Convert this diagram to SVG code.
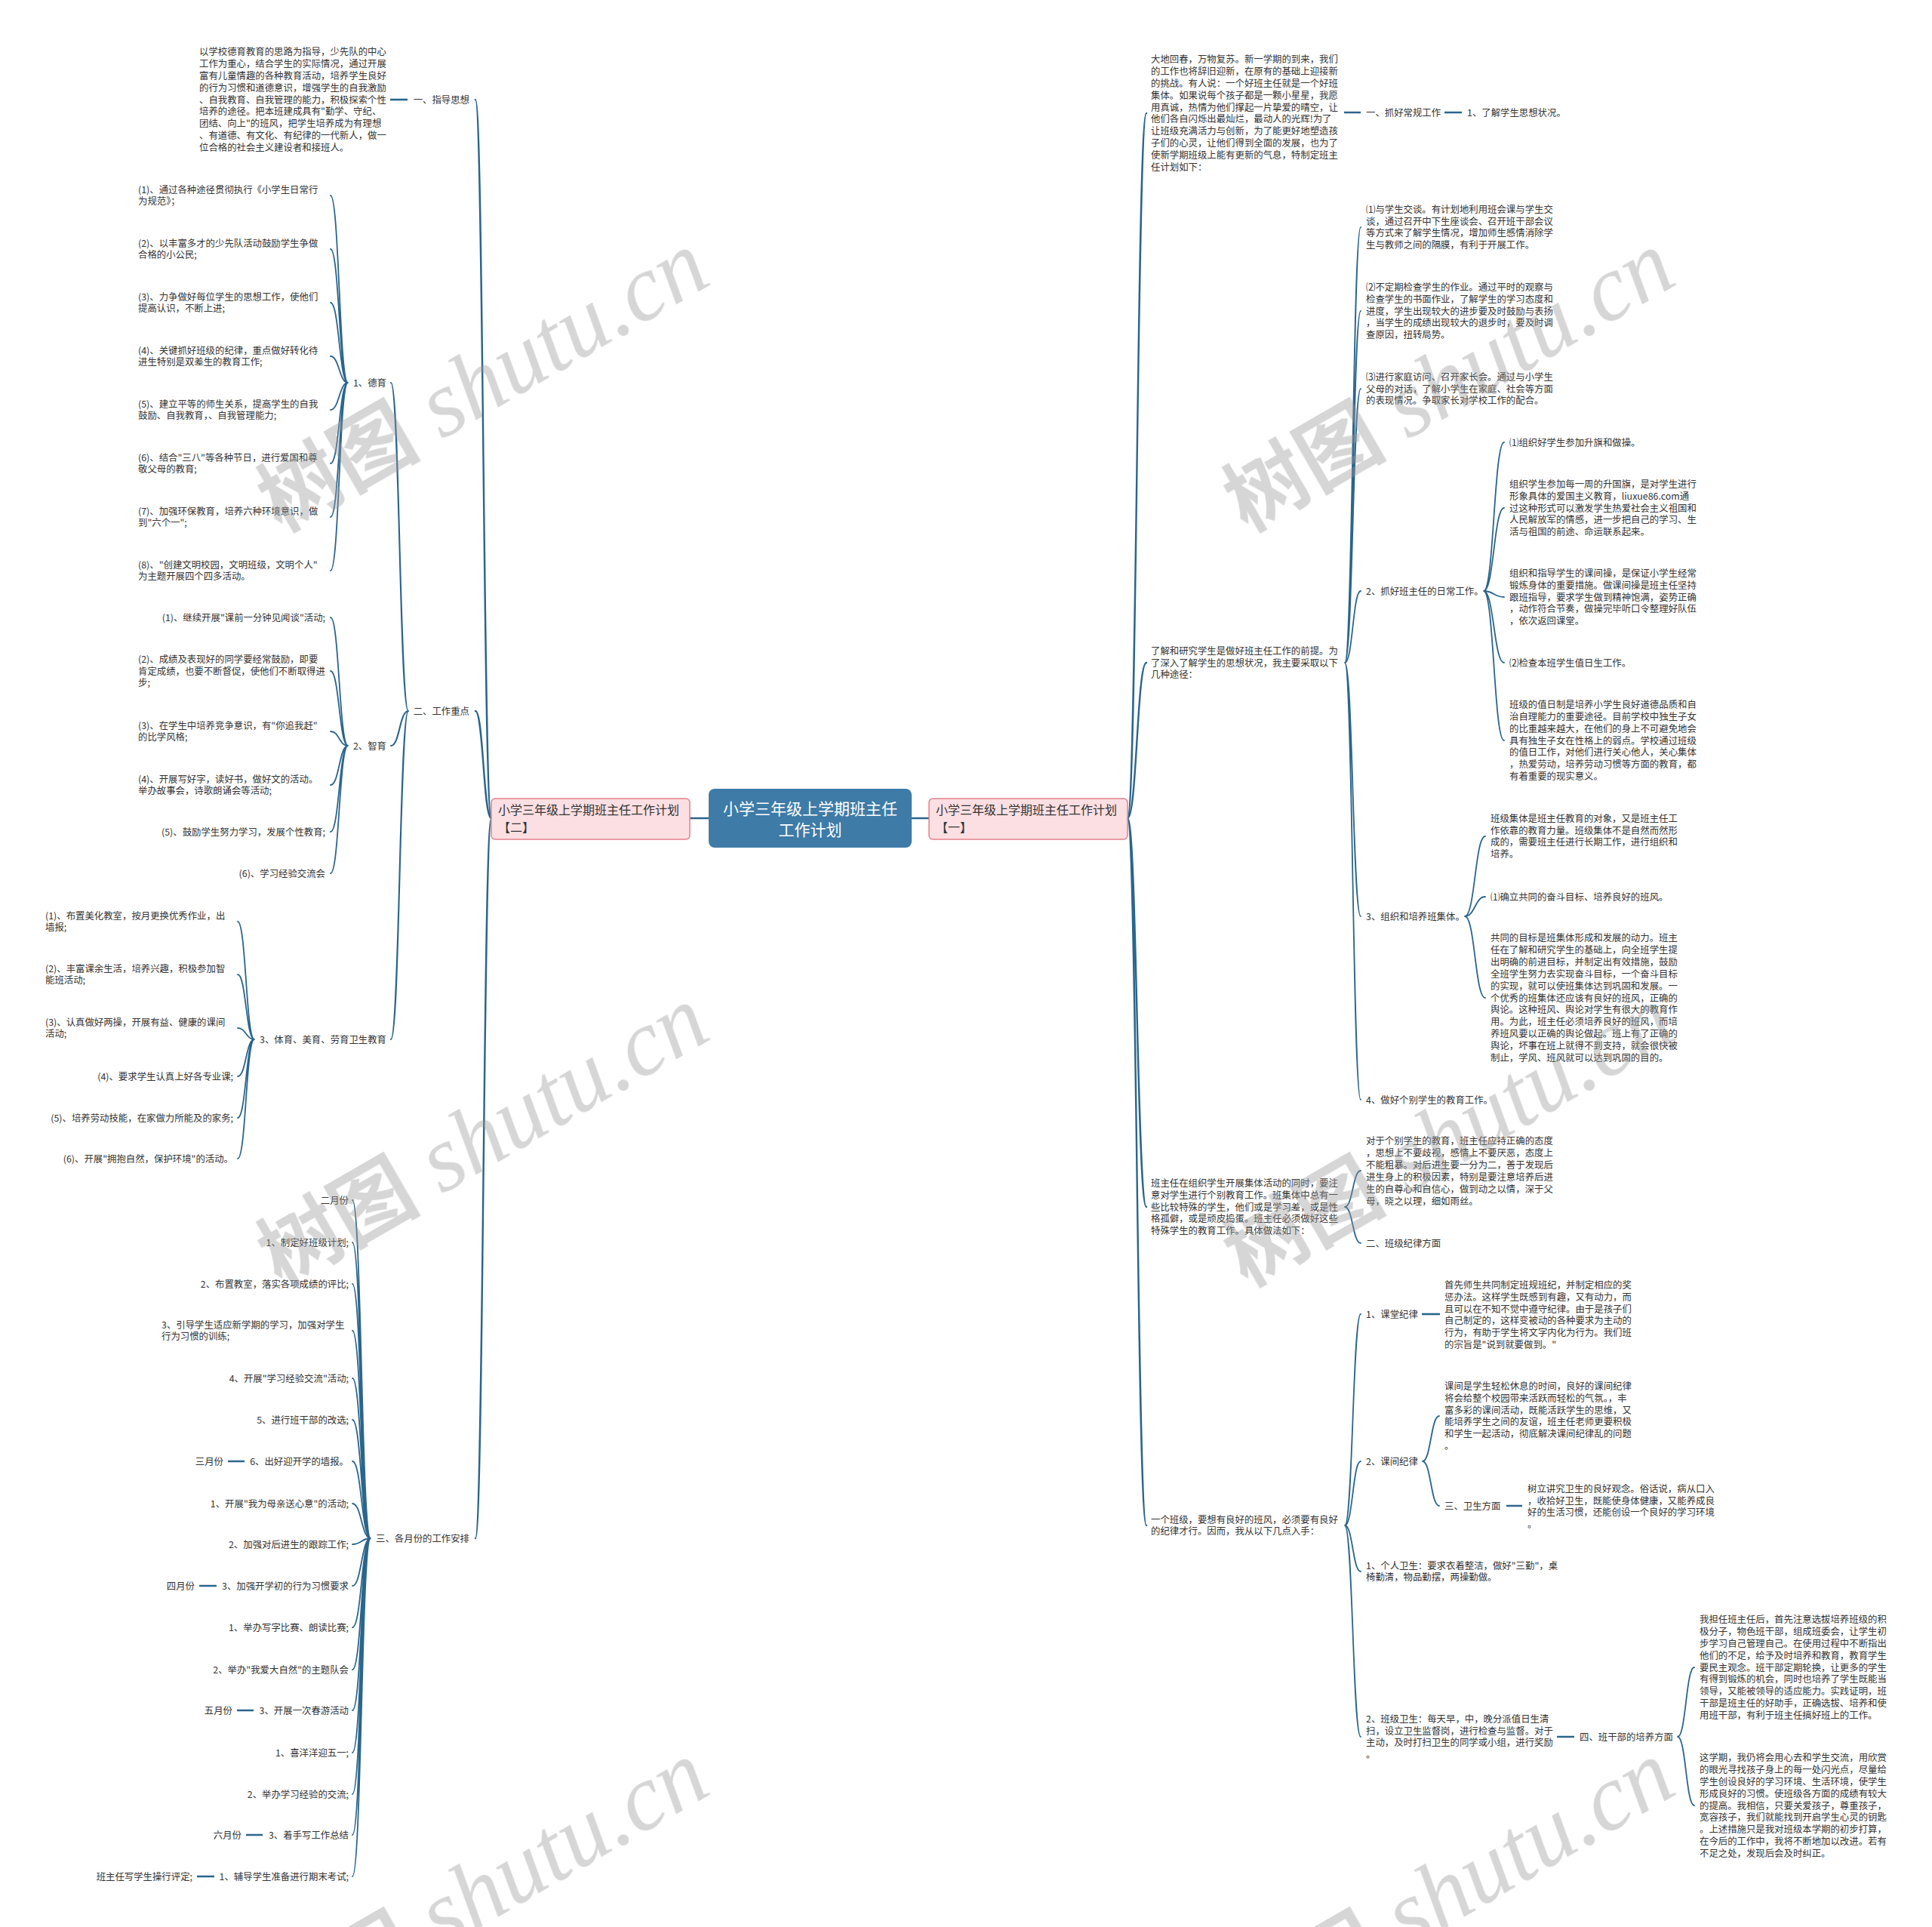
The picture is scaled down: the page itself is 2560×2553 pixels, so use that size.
<svg xmlns="http://www.w3.org/2000/svg" width="2560" height="2553" viewBox="0 0 2560 2553">
<style>
.t{font-family:"Noto Sans CJK SC","Noto Sans",sans-serif;font-size:12.4px;fill:#333}
.e{text-anchor:end}
.c{fill:none;stroke:#2a658c;stroke-width:1.8;stroke-linecap:round}
.h{fill:none;stroke:#2a658c;stroke-width:2.6}
.pink{fill:#fcdfe2;stroke:#e2808c;stroke-width:1.5}
.nt{font-family:"Noto Sans CJK SC","Noto Sans",sans-serif;font-size:16px;fill:#333}
.wm{fill:#9a9a9a;opacity:0.4}
.wc{font-family:"Noto Sans CJK SC",sans-serif;font-weight:bold;font-size:108px}
.we{font-family:"Liberation Serif",serif;font-style:italic;font-size:124px}
</style>
<rect width="2560" height="2553" fill="#fff"/>

<g id="connectors">
<path class="h" d="M914 1084H939M1208 1084H1231"/>
<path class="c" style="stroke-width:2.4" d="M651 1084C640.5 1084 640.5 132 630 132M651 1084C640.5 1084 640.5 942 630 942M651 1084C640.5 1084 640.5 2038 630 2038"/>
<path class="h" d="M517 132H540"/>
<path class="c" style="stroke-width:2.1" d="M541 942C529.5 942 529.5 507 518 507M541 942C529.5 942 529.5 988 518 988M541 942C529.5 942 529.5 1377 518 1377"/>
<path class="c" d="M461 507C449.5 507 449.5 259 438 259M461 507C449.5 507 449.5 330 438 330M461 507C449.5 507 449.5 401 438 401M461 507C449.5 507 449.5 472 438 472M461 507C449.5 507 449.5 543 438 543M461 507C449.5 507 449.5 614 438 614M461 507C449.5 507 449.5 685 438 685M461 507C449.5 507 449.5 756 438 756"/>
<path class="c" d="M461 988C449.5 988 449.5 818 438 818M461 988C449.5 988 449.5 889 438 889M461 988C449.5 988 449.5 969 438 969M461 988C449.5 988 449.5 1040 438 1040M461 988C449.5 988 449.5 1102 438 1102M461 988C449.5 988 449.5 1157 438 1157"/>
<path class="c" d="M337 1377C326 1377 326 1221 315 1221M337 1377C326 1377 326 1291 315 1291M337 1377C326 1377 326 1362 315 1362M337 1377C326 1377 326 1426 315 1426M337 1377C326 1377 326 1481 315 1481M337 1377C326 1377 326 1535 315 1535"/>
<path class="c" d="M491 2038C479 2038 479 1590 467 1590M491 2038C479 2038 479 1646 467 1646M491 2038C479 2038 479 1701 467 1701M491 2038C479 2038 479 1763 467 1763M491 2038C479 2038 479 1826 467 1826M491 2038C479 2038 479 1881 467 1881M491 2038C479 2038 479 1936 467 1936M491 2038C479 2038 479 1992 467 1992M491 2038C479 2038 479 2046 467 2046M491 2038C479 2038 479 2101 467 2101M491 2038C479 2038 479 2156 467 2156M491 2038C479 2038 479 2212 467 2212M491 2038C479 2038 479 2266 467 2266M491 2038C479 2038 479 2322 467 2322M491 2038C479 2038 479 2377 467 2377M491 2038C479 2038 479 2431 467 2431M491 2038C479 2038 479 2486 467 2486"/>
<path class="h" d="M302 1936H324M264 2101H287M314 2266H336M326 2431H348M261 2486H284"/>
<path class="c" style="stroke-width:2.4" d="M1494 1084C1506.5 1084 1506.5 150 1519 150M1494 1084C1506.5 1084 1506.5 878 1519 878M1494 1084C1506.5 1084 1506.5 1599 1519 1599M1494 1084C1506.5 1084 1506.5 2021 1519 2021"/>
<path class="h" d="M1781 149H1803M1914 149H1937"/>
<path class="c" d="M1782 878C1792.5 878 1792.5 301 1803 301M1782 878C1792.5 878 1792.5 412 1803 412M1782 878C1792.5 878 1792.5 515 1803 515M1782 878C1792.5 878 1792.5 783 1803 783M1782 878C1792.5 878 1792.5 1214 1803 1214M1782 878C1792.5 878 1792.5 1457 1803 1457"/>
<path class="c" d="M1966 783C1979.5 783 1979.5 586 1993 586M1966 783C1979.5 783 1979.5 673 1993 673M1966 783C1979.5 783 1979.5 791 1993 791M1966 783C1979.5 783 1979.5 878 1993 878M1966 783C1979.5 783 1979.5 981 1993 981"/>
<path class="c" d="M1941 1214C1954.5 1214 1954.5 1108 1968 1108M1941 1214C1954.5 1214 1954.5 1188 1968 1188M1941 1214C1954.5 1214 1954.5 1322 1968 1322"/>
<path class="c" d="M1782 1599C1792.5 1599 1792.5 1551 1803 1551M1782 1599C1792.5 1599 1792.5 1647 1803 1647"/>
<path class="c" d="M1782 2021C1792.5 2021 1792.5 1741 1803 1741M1782 2021C1792.5 2021 1792.5 1936 1803 1936M1782 2021C1792.5 2021 1792.5 2082 1803 2082M1782 2021C1792.5 2021 1792.5 2301 1803 2301"/>
<path class="h" d="M1884 1741H1908"/>
<path class="c" d="M1885 1936C1896 1936 1896 1876 1907 1876M1885 1936C1896 1936 1896 1995 1907 1995"/>
<path class="h" d="M1996 1995H2017M2063 2301H2086"/>
<path class="c" d="M2223 2301C2234 2301 2234 2209 2245 2209M2223 2301C2234 2301 2234 2392 2245 2392"/>
</g>

<g id="center">
<rect x="939" y="1045" width="269" height="78" rx="8" fill="#3e7ba7"/>
<text font-family="Noto Sans CJK SC,Noto Sans,sans-serif" font-size="21" fill="#fff" text-anchor="middle"><tspan x="1073.5" y="1078.5">小学三年级上学期班主任</tspan><tspan x="1073.5" y="1106.5">工作计划</tspan></text>
</g>
<g id="plan2">
<rect class="pink" x="651" y="1058" width="263" height="54" rx="5"/>
<text class="nt"><tspan x="660" y="1079">小学三年级上学期班主任工作计划</tspan><tspan x="660" y="1102">【二】</tspan></text>
</g>
<g id="plan1">
<rect class="pink" x="1231" y="1058" width="263" height="54" rx="5"/>
<text class="nt"><tspan x="1240" y="1079">小学三年级上学期班主任工作计划</tspan><tspan x="1240" y="1102">【一】</tspan></text>
</g>

<g id="left-guiding">
<text class="t e" x="622" y="136.5">一、指导思想</text>
<text class="t" x="264" y="72.9"><tspan x="264">以学校德育教育的思路为指导，少先队的中心</tspan><tspan x="264" dy="15.9">工作为重心，结合学生的实际情况，通过开展</tspan><tspan x="264" dy="15.9">富有儿童情趣的各种教育活动，培养学生良好</tspan><tspan x="264" dy="15.9">的行为习惯和道德意识，增强学生的自我激励</tspan><tspan x="264" dy="15.9">、自我教育、自我管理的能力，积极探索个性</tspan><tspan x="264" dy="15.9">培养的途径。把本班建成具有"勤学、守纪、</tspan><tspan x="264" dy="15.9">团结、向上"的班风，把学生培养成为有理想</tspan><tspan x="264" dy="15.9">、有道德、有文化、有纪律的一代新人，做一</tspan><tspan x="264" dy="15.9">位合格的社会主义建设者和接班人。</tspan></text>
</g>

<g id="left-focus">
<text class="t e" x="622" y="946.5">二、工作重点</text>
</g>
<g id="left-moral">
<text class="t e" x="512" y="511.5">1、德育</text>
<text class="t" y="255.55"><tspan x="183">(1)、通过各种途径贯彻执行《小学生日常行</tspan><tspan x="183" dy="15.9">为规范》；</tspan></text>
<text class="t" y="326.55"><tspan x="183">(2)、以丰富多才的少先队活动鼓励学生争做</tspan><tspan x="183" dy="15.9">合格的小公民;</tspan></text>
<text class="t" y="397.55"><tspan x="183">(3)、力争做好每位学生的思想工作，使他们</tspan><tspan x="183" dy="15.9">提高认识，不断上进;</tspan></text>
<text class="t" y="468.55"><tspan x="183">(4)、关键抓好班级的纪律，重点做好转化待</tspan><tspan x="183" dy="15.9">进生特别是双差生的教育工作;</tspan></text>
<text class="t" y="539.55"><tspan x="183">(5)、建立平等的师生关系，提高学生的自我</tspan><tspan x="183" dy="15.9">鼓励、自我教育，、自我管理能力;</tspan></text>
<text class="t" y="610.55"><tspan x="183">(6)、结合"三八"等各种节日，进行爱国和尊</tspan><tspan x="183" dy="15.9">敬父母的教育;</tspan></text>
<text class="t" y="681.55"><tspan x="183">(7)、加强环保教育，培养六种环境意识，做</tspan><tspan x="183" dy="15.9">到"六个一";</tspan></text>
<text class="t" y="752.55"><tspan x="183">(8)、"创建文明校园，文明班级，文明个人"</tspan><tspan x="183" dy="15.9">为主题开展四个四多活动。</tspan></text>
</g>
<g id="left-intellect">
<text class="t e" x="512" y="992.5">2、智育</text>
<text class="t e" x="431" y="822.5">(1)、继续开展"课前一分钟见闻谈"活动;</text>
<text class="t" y="877.6"><tspan x="183">(2)、成绩及表现好的同学要经常鼓励，即要</tspan><tspan x="183" dy="15.9">肯定成绩，也要不断督促，使他们不断取得进</tspan><tspan x="183" dy="15.9">步;</tspan></text>
<text class="t" y="965.55"><tspan x="183">(3)、在学生中培养竞争意识，有"你追我赶"</tspan><tspan x="183" dy="15.9">的比学风格;</tspan></text>
<text class="t" y="1036.55"><tspan x="183">(4)、开展写好字，读好书，做好文的活动。</tspan><tspan x="183" dy="15.9">举办故事会，诗歌朗诵会等活动;</tspan></text>
<text class="t e" x="431" y="1106.5">(5)、鼓励学生努力学习，发展个性教育;</text>
<text class="t e" x="431" y="1161.5">(6)、学习经验交流会</text>
</g>
<g id="left-physical">
<text class="t e" x="512" y="1381.5">3、体育、美育、劳育卫生教育</text>
<text class="t" y="1217.55"><tspan x="60">(1)、布置美化教室，按月更换优秀作业，出</tspan><tspan x="60" dy="15.9">墙报;</tspan></text>
<text class="t" y="1287.55"><tspan x="60">(2)、丰富课余生活，培养兴趣，积极参加智</tspan><tspan x="60" dy="15.9">能班活动;</tspan></text>
<text class="t" y="1358.55"><tspan x="60">(3)、认真做好两操，开展有益、健康的课间</tspan><tspan x="60" dy="15.9">活动;</tspan></text>
<text class="t e" x="309" y="1430.5">(4)、要求学生认真上好各专业课;</text>
<text class="t e" x="309" y="1485.5">(5)、培养劳动技能，在家做力所能及的家务;</text>
<text class="t e" x="309" y="1539.5">(6)、开展"拥抱自然，保护环境"的活动。</text>
</g>
<g id="left-months">
<text class="t e" x="622" y="2042.5">三、各月份的工作安排</text>
<text class="t e" x="462" y="1594.5">二月份</text>
<text class="t e" x="462" y="1650.5">1、制定好班级计划;</text>
<text class="t e" x="462" y="1705.5">2、布置教室，落实各项成绩的评比;</text>
<text class="t" y="1759.55"><tspan x="214">3、引导学生适应新学期的学习，加强对学生</tspan><tspan x="214" dy="15.9">行为习惯的训练;</tspan></text>
<text class="t e" x="462" y="1830.5">4、开展"学习经验交流"活动;</text>
<text class="t e" x="462" y="1885.5">5、进行班干部的改选;</text>
<text class="t e" x="462" y="1940.5">6、出好迎开学的墙报。</text>
<text class="t e" x="296" y="1940.5">三月份</text>
<text class="t e" x="462" y="1996.5">1、开展"我为母亲送心意"的活动;</text>
<text class="t e" x="462" y="2050.5">2、加强对后进生的跟踪工作;</text>
<text class="t e" x="462" y="2105.5">3、加强开学初的行为习惯要求</text>
<text class="t e" x="258" y="2105.5">四月份</text>
<text class="t e" x="462" y="2160.5">1、举办写字比赛、朗读比赛;</text>
<text class="t e" x="462" y="2216.5">2、举办"我爱大自然"的主题队会</text>
<text class="t e" x="462" y="2270.5">3、开展一次春游活动</text>
<text class="t e" x="308" y="2270.5">五月份</text>
<text class="t e" x="462" y="2326.5">1、喜洋洋迎五一;</text>
<text class="t e" x="462" y="2381.5">2、举办学习经验的交流;</text>
<text class="t e" x="462" y="2435.5">3、着手写工作总结</text>
<text class="t e" x="320" y="2435.5">六月份</text>
<text class="t e" x="462" y="2490.5">1、辅导学生准备进行期末考试;</text>
<text class="t e" x="255" y="2490.5">班主任写学生操行评定;</text>
</g>

<g id="right-intro">
<text class="t" y="82.95"><tspan x="1525">大地回春，万物复苏。新一学期的到来，我们</tspan><tspan x="1525" dy="15.9">的工作也将辞旧迎新，在原有的基础上迎接新</tspan><tspan x="1525" dy="15.9">的挑战。有人说：一个好班主任就是一个好班</tspan><tspan x="1525" dy="15.9">集体。如果说每个孩子都是一颗小星星，我愿</tspan><tspan x="1525" dy="15.9">用真诚，热情为他们撑起一片挚爱的晴空，让</tspan><tspan x="1525" dy="15.9">他们各自闪烁出最灿烂，最动人的光辉!为了</tspan><tspan x="1525" dy="15.9">让班级充满活力与创新，为了能更好地塑造孩</tspan><tspan x="1525" dy="15.9">子们的心灵，让他们得到全面的发展，也为了</tspan><tspan x="1525" dy="15.9">使新学期班级上能有更新的气息，特制定班主</tspan><tspan x="1525" dy="15.9">任计划如下：</tspan></text>
<text class="t" x="1810" y="153.5">一、抓好常规工作</text>
<text class="t" x="1944" y="153.5">1、了解学生思想状况。</text>
</g>

<g id="right-study">
<text class="t" y="866.6"><tspan x="1525">了解和研究学生是做好班主任工作的前提。为</tspan><tspan x="1525" dy="15.9">了深入了解学生的思想状况，我主要采取以下</tspan><tspan x="1525" dy="15.9">几种途径：</tspan></text>
<text class="t" y="281.65"><tspan x="1810">⑴与学生交谈。有计划地利用班会课与学生交</tspan><tspan x="1810" dy="15.9">谈，通过召开中下生座谈会、召开班干部会议</tspan><tspan x="1810" dy="15.9">等方式来了解学生情况，增加师生感情消除学</tspan><tspan x="1810" dy="15.9">生与教师之间的隔膜，有利于开展工作。</tspan></text>
<text class="t" y="384.7"><tspan x="1810">⑵不定期检查学生的作业。通过平时的观察与</tspan><tspan x="1810" dy="15.9">检查学生的书面作业，了解学生的学习态度和</tspan><tspan x="1810" dy="15.9">进度，学生出现较大的进步要及时鼓励与表扬</tspan><tspan x="1810" dy="15.9">，当学生的成绩出现较大的退步时，要及时调</tspan><tspan x="1810" dy="15.9">查原因，扭转局势。</tspan></text>
<text class="t" y="503.6"><tspan x="1810">⑶进行家庭访问、召开家长会。通过与小学生</tspan><tspan x="1810" dy="15.9">父母的对话，了解小学生在家庭、社会等方面</tspan><tspan x="1810" dy="15.9">的表现情况。争取家长对学校工作的配合。</tspan></text>
</g>
<g id="right-daily">
<text class="t" x="1810" y="787.5">2、抓好班主任的日常工作。</text>
<text class="t" x="2000" y="590.5">⑴组织好学生参加升旗和做操。</text>
<text class="t" y="645.7"><tspan x="2000">组织学生参加每一周的升国旗，是对学生进行</tspan><tspan x="2000" dy="15.9">形象具体的爱国主义教育，liuxue86.com通</tspan><tspan x="2000" dy="15.9">过这种形式可以激发学生热爱社会主义祖国和</tspan><tspan x="2000" dy="15.9">人民解放军的情感，进一步把自己的学习、生</tspan><tspan x="2000" dy="15.9">活与祖国的前途、命运联系起来。</tspan></text>
<text class="t" y="763.7"><tspan x="2000">组织和指导学生的课间操，是保证小学生经常</tspan><tspan x="2000" dy="15.9">锻炼身体的重要措施。做课间操是班主任坚持</tspan><tspan x="2000" dy="15.9">跟班指导，要求学生做到精神饱满，姿势正确</tspan><tspan x="2000" dy="15.9">，动作符合节奏，做操完毕听口令整理好队伍</tspan><tspan x="2000" dy="15.9">，依次返回课堂。</tspan></text>
<text class="t" x="2000" y="882.5">⑵检查本班学生值日生工作。</text>
<text class="t" y="937.8"><tspan x="2000">班级的值日制是培养小学生良好道德品质和自</tspan><tspan x="2000" dy="15.9">治自理能力的重要途径。目前学校中独生子女</tspan><tspan x="2000" dy="15.9">的比重越来越大，在他们的身上不可避免地会</tspan><tspan x="2000" dy="15.9">具有独生子女在性格上的弱点。学校通过班级</tspan><tspan x="2000" dy="15.9">的值日工作，对他们进行关心他人，关心集体</tspan><tspan x="2000" dy="15.9">，热爱劳动，培养劳动习惯等方面的教育，都</tspan><tspan x="2000" dy="15.9">有着重要的现实意义。</tspan></text>
</g>
<g id="right-collective">
<text class="t" x="1810" y="1218.5">3、组织和培养班集体。</text>
<text class="t" y="1088.65"><tspan x="1975">班级集体是班主任教育的对象，又是班主任工</tspan><tspan x="1975" dy="15.9">作依靠的教育力量。班级集体不是自然而然形</tspan><tspan x="1975" dy="15.9">成的，需要班主任进行长期工作，进行组织和</tspan><tspan x="1975" dy="15.9">培养。</tspan></text>
<text class="t" x="1975" y="1192.5">⑴确立共同的奋斗目标、培养良好的班风。</text>
<text class="t" y="1247"><tspan x="1975">共同的目标是班集体形成和发展的动力。班主</tspan><tspan x="1975" dy="15.9">任在了解和研究学生的基础上，向全班学生提</tspan><tspan x="1975" dy="15.9">出明确的前进目标，并制定出有效措施，鼓励</tspan><tspan x="1975" dy="15.9">全班学生努力去实现奋斗目标，一个奋斗目标</tspan><tspan x="1975" dy="15.9">的实现，就可以使班集体达到巩固和发展。一</tspan><tspan x="1975" dy="15.9">个优秀的班集体还应该有良好的班风，正确的</tspan><tspan x="1975" dy="15.9">舆论。这种班风、舆论对学生有很大的教育作</tspan><tspan x="1975" dy="15.9">用。为此，班主任必须培养良好的班风，而培</tspan><tspan x="1975" dy="15.9">养班风要以正确的舆论做起。班上有了正确的</tspan><tspan x="1975" dy="15.9">舆论，坏事在班上就得不到支持，就会很快被</tspan><tspan x="1975" dy="15.9">制止，学风、班风就可以达到巩固的目的。</tspan></text>
<text class="t" x="1810" y="1461.5">4、做好个别学生的教育工作。</text>
</g>

<g id="right-individual">
<text class="t" y="1571.7"><tspan x="1525">班主任在组织学生开展集体活动的同时，要注</tspan><tspan x="1525" dy="15.9">意对学生进行个别教育工作。班集体中总有一</tspan><tspan x="1525" dy="15.9">些比较特殊的学生，他们或是学习差，或是性</tspan><tspan x="1525" dy="15.9">格孤僻，或是顽皮捣蛋。班主任必须做好这些</tspan><tspan x="1525" dy="15.9">特殊学生的教育工作。具体做法如下：</tspan></text>
<text class="t" y="1516.25"><tspan x="1810">对于个别学生的教育，班主任应持正确的态度</tspan><tspan x="1810" dy="15.9">，思想上不要歧视，感情上不要厌恶，态度上</tspan><tspan x="1810" dy="15.9">不能粗暴。对后进生要一分为二，善于发现后</tspan><tspan x="1810" dy="15.9">进生身上的积极因素，特别是要注意培养后进</tspan><tspan x="1810" dy="15.9">生的自尊心和自信心，做到动之以情，深于父</tspan><tspan x="1810" dy="15.9">母，晓之以理，细如雨丝。</tspan></text>
<text class="t" x="1810" y="1651.5">二、班级纪律方面</text>
</g>

<g id="right-discipline">
<text class="t" y="2017.55"><tspan x="1525">一个班级，要想有良好的班风，必须要有良好</tspan><tspan x="1525" dy="15.9">的纪律才行。因而，我从以下几点入手：</tspan></text>
<text class="t" x="1810" y="1745.5">1、课堂纪律</text>
<text class="t" y="1706.75"><tspan x="1914">首先师生共同制定班规班纪，并制定相应的奖</tspan><tspan x="1914" dy="15.9">惩办法。这样学生既感到有趣，又有动力，而</tspan><tspan x="1914" dy="15.9">且可以在不知不觉中遵守纪律。由于是孩子们</tspan><tspan x="1914" dy="15.9">自己制定的，这样变被动的各种要求为主动的</tspan><tspan x="1914" dy="15.9">行为，有助于学生将文字内化为行为。我们班</tspan><tspan x="1914" dy="15.9">的宗旨是"说到就要做到。"</tspan></text>
<text class="t" x="1810" y="1940.5">2、课间纪律</text>
<text class="t" y="1840.75"><tspan x="1914">课间是学生轻松休息的时间，良好的课间纪律</tspan><tspan x="1914" dy="15.9">将会给整个校园带来活跃而轻松的气氛。，丰</tspan><tspan x="1914" dy="15.9">富多彩的课间活动，既能活跃学生的思维，又</tspan><tspan x="1914" dy="15.9">能培养学生之间的友谊，班主任老师更要积极</tspan><tspan x="1914" dy="15.9">和学生一起活动，彻底解决课间纪律乱的问题</tspan><tspan x="1914" dy="15.9">。</tspan></text>
<text class="t" x="1914" y="1999.5">三、卫生方面</text>
<text class="t" y="1976.65"><tspan x="2024">树立讲究卫生的良好观念。俗话说，病从口入</tspan><tspan x="2024" dy="15.9">，收拾好卫生，既能使身体健康，又能养成良</tspan><tspan x="2024" dy="15.9">好的生活习惯，还能创设一个良好的学习环境</tspan><tspan x="2024" dy="15.9">。</tspan></text>
<text class="t" y="2078.55"><tspan x="1810">1、个人卫生：要求衣着整洁，做好"三勤"，桌</tspan><tspan x="1810" dy="15.9">椅勤清，物品勤摆，两操勤做。</tspan></text>
<text class="t" y="2281.65"><tspan x="1810">2、班级卫生：每天早，中，晚分派值日生清</tspan><tspan x="1810" dy="15.9">扫，设立卫生监督岗，进行检查与监督。对于</tspan><tspan x="1810" dy="15.9">主动，及时打扫卫生的同学或小组，进行奖励</tspan><tspan x="1810" dy="15.9">。</tspan></text>
<text class="t" x="2093" y="2305.5">四、班干部的培养方面</text>
<text class="t" y="2149.9"><tspan x="2252">我担任班主任后，首先注意选拔培养班级的积</tspan><tspan x="2252" dy="15.9">极分子，物色班干部，组成班委会，让学生初</tspan><tspan x="2252" dy="15.9">步学习自己管理自己。在使用过程中不断指出</tspan><tspan x="2252" dy="15.9">他们的不足，给予及时培养和教育，教育学生</tspan><tspan x="2252" dy="15.9">要民主观念。班干部定期轮换，让更多的学生</tspan><tspan x="2252" dy="15.9">有得到锻炼的机会，同时也培养了学生既能当</tspan><tspan x="2252" dy="15.9">领导，又能被领导的适应能力。实践证明，班</tspan><tspan x="2252" dy="15.9">干部是班主任的好助手，正确选拔、培养和使</tspan><tspan x="2252" dy="15.9">用班干部，有利于班主任搞好班上的工作。</tspan></text>
<text class="t" y="2332.9"><tspan x="2252">这学期，我仍将会用心去和学生交流，用欣赏</tspan><tspan x="2252" dy="15.9">的眼光寻找孩子身上的每一处闪光点，尽量给</tspan><tspan x="2252" dy="15.9">学生创设良好的学习环境、生活环境，使学生</tspan><tspan x="2252" dy="15.9">形成良好的习惯。使班级各方面的成绩有较大</tspan><tspan x="2252" dy="15.9">的提高。我相信，只要关爱孩子，尊重孩子，</tspan><tspan x="2252" dy="15.9">宽容孩子，我们就能找到开启学生心灵的钥匙</tspan><tspan x="2252" dy="15.9">。上述措施只是我对班级本学期的初步打算，</tspan><tspan x="2252" dy="15.9">在今后的工作中，我将不断地加以改进。若有</tspan><tspan x="2252" dy="15.9">不足之处，发现后会及时纠正。</tspan></text>
</g>

<g id="watermark" class="wm">
<text transform="translate(372 706) rotate(-30)"><tspan class="wc">树图</tspan><tspan class="we" dx="30">shutu.cn</tspan></text>
<text transform="translate(1652 706) rotate(-30)"><tspan class="wc">树图</tspan><tspan class="we" dx="30">shutu.cn</tspan></text>
<text transform="translate(372 1706) rotate(-30)"><tspan class="wc">树图</tspan><tspan class="we" dx="30">shutu.cn</tspan></text>
<text transform="translate(1652 1706) rotate(-30)"><tspan class="wc">树图</tspan><tspan class="we" dx="30">shutu.cn</tspan></text>
<text transform="translate(372 2706) rotate(-30)"><tspan class="wc">树图</tspan><tspan class="we" dx="30">shutu.cn</tspan></text>
<text transform="translate(1652 2706) rotate(-30)"><tspan class="wc">树图</tspan><tspan class="we" dx="30">shutu.cn</tspan></text>
</g>
</svg>
